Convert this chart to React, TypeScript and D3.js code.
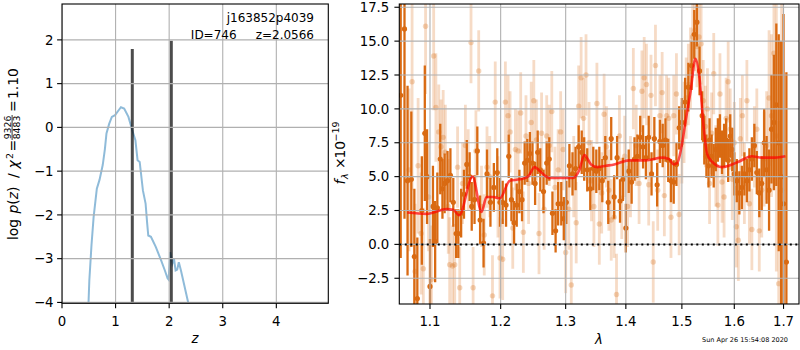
import * as d3 from "d3";

// ── left panel: log p(z) ─────────────────────────────────────────────
const zTicks = [0, 1, 2, 3, 4];
const zTickLabels = ["0", "1", "2", "3", "4"];
const logpTicks = [-4, -3, -2, -1, 0, 1, 2];
const logpTickLabels = ["\u22124", "\u22123", "\u22122", "\u22121", "0", "1", "2"];

// [z, log p(z)]
const pzCurve: [number, number][] = [
  [0.47, -4.6], [0.494, -4.03], [0.51, -3.5], [0.55, -2.7], [0.59, -2.05],
  [0.65, -1.4], [0.70, -1.2], [0.76, -0.86], [0.80, -0.5], [0.83, -0.14],
  [0.88, 0.08], [0.93, 0.24], [0.99, 0.28], [1.05, 0.38], [1.10, 0.46],
  [1.16, 0.43], [1.24, 0.24], [1.31, -0.06], [1.37, -0.29], [1.41, -0.75],
  [1.45, -0.79], [1.51, -1.44], [1.56, -1.74], [1.59, -2.2], [1.61, -2.47],
  [1.66, -2.5], [1.75, -2.73], [1.85, -3.04], [1.92, -3.27], [1.97, -3.45],
  [1.99, -3.48], [2.02, -2.85], [2.06, -3.11], [2.09, -3.0], [2.12, -3.27],
  [2.15, -3.25], [2.18, -3.08], [2.22, -3.27], [2.36, -4.03], [2.40, -4.4],
];

// [z, top of line] for the two dark redshift markers
const zMarkers: [number, number][] = [
  [1.312, 1.79],
  [2.04, 1.98],
];

// ── right panel: spectrum ────────────────────────────────────────────
const lamTicks = [1.1, 1.2, 1.3, 1.4, 1.5, 1.6, 1.7];
const lamTickLabels = ["1.1", "1.2", "1.3", "1.4", "1.5", "1.6", "1.7"];
const fluxTicks = [-2.5, 0, 2.5, 5, 7.5, 10, 12.5, 15, 17.5];
const fluxTickLabels = ["\u22122.5", "0.0", "2.5", "5.0", "7.5", "10.0", "12.5", "15.0", "17.5"];

// [lambda, flux, err] — strong (dark) spectrum
const darkPoints: [number, number, number][] = [
  [1.061, 11.0, 12], [1.066, 15.9, 14], [1.070, 4.7, 7], [1.075, 4.8, 5],
  [1.079, -0.9, 5], [1.083, -4.0, 4.5], [1.089, 2.5, 4], [1.093, 8.2, 5],
  [1.096, 5.0, 3.5], [1.100, -3.1, 3.5], [1.104, 2.8, 3], [1.107, 0.2, 3],
  [1.110, 2.7, 2.6], [1.114, 6.3, 2.6], [1.117, 4.1, 2.2], [1.120, 4.5, 2.2],
  [1.124, 4.7, 2.2], [1.128, 5.1, 2], [1.132, 3.1, 1.8], [1.136, 0.8, 1.8],
  [1.139, 0.8, 1.8], [1.143, 2.3, 1.8], [1.147, 3.7, 1.8], [1.151, 5.9, 1.8],
  [1.155, 5.0, 1.8], [1.158, 2.8, 1.8], [1.162, 3.3, 1.8], [1.166, 6.9, 1.8],
  [1.170, 1.8, 1.8], [1.175, 0.1, 1.8], [1.180, 5.2, 1.8], [1.185, 3.1, 1.8],
  [1.190, 4.2, 1.8], [1.195, 5.3, 1.8], [1.199, 3.1, 1.8],
  [1.203, 3.1, 1.6], [1.208, 2.9, 1.6], [1.212, 6.5, 1.6], [1.216, 3.3, 1.6],
  [1.220, 1.6, 1.6], [1.224, 2.9, 1.6], [1.228, 3.9, 1.6], [1.232, 3.3, 1.6],
  [1.236, 6.0, 1.6], [1.240, 6.2, 1.6], [1.244, 6.7, 1.6], [1.248, 6.0, 1.6],
  [1.252, 4.5, 1.6], [1.256, 6.8, 1.6], [1.260, 5.5, 1.6], [1.265, 3.9, 1.6],
  [1.270, 6.0, 1.6], [1.274, 6.3, 1.6], [1.279, 2.3, 1.6], [1.284, 1.0, 1.6],
  [1.288, 3.0, 1.6], [1.293, 3.0, 1.6], [1.297, 1.9, 1.6], [1.301, 3.1, 1.6],
  [1.306, 5.8, 1.6], [1.311, 5.2, 1.6], [1.316, 5.6, 1.6], [1.321, 7.2, 1.6],
  [1.326, 6.8, 1.6], [1.330, 6.3, 1.6], [1.335, 5.5, 1.6], [1.340, 4.1, 1.6],
  [1.345, 5.6, 1.6], [1.350, 5.4, 1.6], [1.355, 5.6, 1.6], [1.360, 4.7, 1.6],
  [1.365, 6.4, 1.6], [1.370, 3.1, 1.6], [1.375, 7.8, 1.6], [1.380, 3.5, 1.6],
  [1.385, 6.4, 1.6], [1.390, 3.2, 1.6], [1.395, 4.8, 1.6], [1.400, 1.2, 1.8],
  [1.405, 5.4, 1.6], [1.410, 4.6, 1.6], [1.415, 6.3, 1.6], [1.420, 6.5, 1.6],
  [1.425, 7.9, 1.6], [1.430, 7.2, 1.6], [1.435, 6.4, 1.6], [1.440, 7.9, 1.6],
  [1.445, 5.2, 1.6], [1.450, 7.8, 1.6], [1.455, 4.4, 1.6], [1.460, 7.6, 1.6],
  [1.465, 7.3, 1.6], [1.470, 7.7, 1.6], [1.475, 6.2, 1.6], [1.480, 4.7, 1.6],
  [1.485, 4.6, 1.6], [1.490, 5.9, 1.6], [1.495, 8.6, 1.6], [1.500, 9.0, 1.8],
  [1.506, 10.5, 1.8], [1.512, 11.6, 1.8], [1.518, 13.2, 1.8], [1.523, 15.5, 1.8],
  [1.528, 16.4, 1.8], [1.533, 12.8, 1.8], [1.538, 9.5, 1.8], [1.542, 7.7, 1.8],
  [1.546, 6.5, 1.6], [1.550, 5.8, 1.6], [1.552, 7.7, 1.6], [1.556, 6.5, 1.6],
  [1.560, 5.8, 1.6], [1.564, 7.0, 1.6], [1.568, 7.7, 1.6], [1.572, 8.0, 1.6],
  [1.576, 6.8, 1.6], [1.580, 7.3, 1.6], [1.584, 7.7, 1.6], [1.588, 6.2, 1.6],
  [1.592, 8.0, 1.6], [1.596, 7.0, 1.6], [1.600, 5.2, 1.6], [1.605, 4.7, 1.6],
  [1.610, 3.8, 1.6], [1.615, 4.2, 1.6], [1.620, 5.2, 1.6], [1.625, 4.7, 1.6],
  [1.630, 5.5, 1.6], [1.635, 6.3, 1.6], [1.640, 7.3, 1.6], [1.645, 5.3, 1.6],
  [1.650, 3.8, 1.8], [1.655, 4.5, 2], [1.660, 7.5, 2.5], [1.665, 5.5, 2.5],
  [1.670, 4.0, 3], [1.675, 8.5, 4], [1.680, 9.0, 5], [1.685, 10.3, 6],
  [1.690, 7.5, 8], [1.695, 5.0, 10], [1.700, 3.0, 14], [1.706, -1.3, 14],
];

// [lambda, flux, err] — faint (light) spectrum
const lightPoints: [number, number, number][] = [
  [1.072, 5.5, 6], [1.076, 12.0, 8], [1.080, -2.0, 5], [1.084, 5.8, 5],
  [1.088, 0.8, 4.5], [1.091, -1.8, 4.5], [1.094, 16.1, 5], [1.098, 3.5, 4],
  [1.102, -2.6, 4], [1.105, 13.9, 4], [1.108, 10.1, 4], [1.112, 8.3, 3.5],
  [1.115, 7.2, 3.5], [1.118, 7.9, 3.5], [1.121, 6.8, 3.5], [1.125, 2.8, 3.5],
  [1.127, -1.5, 3.5], [1.131, -1.6, 3], [1.134, -1.5, 3], [1.138, 5.7, 3],
  [1.141, -3.2, 3], [1.145, 4.5, 3], [1.149, 7.3, 3], [1.153, 5.5, 3],
  [1.157, 14.9, 3], [1.160, -3.2, 3], [1.164, 6.9, 3], [1.168, 12.8, 3],
  [1.172, 2.8, 3], [1.176, 0.7, 3], [1.180, 5.7, 3], [1.184, 5.0, 3],
  [1.188, -3.8, 3], [1.192, 10.5, 3], [1.196, 3.5, 3], [1.199, -1.0, 3],
  [1.203, -1.1, 3], [1.207, 10.5, 3], [1.211, 9.5, 3], [1.214, 8.3, 3],
  [1.218, 1.2, 3], [1.222, 7.0, 3], [1.226, 6.9, 3], [1.230, 9.7, 3],
  [1.234, 0.9, 3], [1.238, 8.0, 3], [1.242, 4.5, 3], [1.246, 9.0, 3],
  [1.250, 10.6, 3], [1.254, 7.7, 3], [1.258, 0.8, 3], [1.262, 8.2, 3],
  [1.266, 2.6, 3], [1.270, 8.0, 3], [1.274, 7.3, 3], [1.278, 9.8, 3],
  [1.283, 4.2, 3], [1.288, 5.5, 3], [1.292, 8.3, 3], [1.296, 7.0, 3],
  [1.300, -0.6, 3], [1.305, 2.6, 3], [1.309, -3.0, 3], [1.313, 5.0, 3],
  [1.317, 1.6, 3], [1.321, 10.2, 3], [1.325, 12.3, 3], [1.329, 9.3, 3],
  [1.333, 12.5, 3], [1.338, 7.5, 3], [1.342, 4.7, 3], [1.346, 2.8, 3],
  [1.351, 10.4, 3], [1.355, 1.5, 3], [1.359, 3.8, 3], [1.363, 9.6, 3],
  [1.367, 7.2, 3], [1.371, 4.0, 3], [1.375, 1.8, 3], [1.380, 2.0, 3],
  [1.384, -3.7, 3], [1.389, 8.0, 3], [1.393, 3.4, 3], [1.398, 6.5, 3],
  [1.403, 2.8, 3], [1.408, 5.0, 3], [1.413, 11.5, 3], [1.418, 7.3, 3],
  [1.423, 4.5, 3], [1.428, 11.3, 3], [1.432, 12.3, 3], [1.436, 11.8, 3],
  [1.440, 4.4, 3], [1.444, 11.0, 3], [1.448, -1.3, 3], [1.452, 13.2, 3],
  [1.456, 4.0, 3], [1.460, 9.5, 3], [1.464, 11.2, 3], [1.468, 3.6, 3],
  [1.472, 9.5, 3], [1.476, 9.3, 3], [1.480, 2.0, 3], [1.485, 9.5, 3],
  [1.490, 11.1, 3], [1.495, 2.2, 3], [1.500, 7.5, 3], [1.504, 9.0, 3],
  [1.508, 10.8, 3], [1.512, 11.8, 3], [1.516, 13.0, 3], [1.520, 15.3, 3],
  [1.524, 15.8, 3], [1.528, 14.6, 3], [1.532, 15.3, 3], [1.536, 14.8, 3],
  [1.540, 10.6, 3], [1.544, 8.7, 3], [1.548, 10.0, 3], [1.552, 4.5, 3],
  [1.556, 8.2, 3], [1.560, 12.6, 3], [1.564, 5.8, 3], [1.568, 2.9, 3],
  [1.572, 11.1, 3], [1.576, 4.6, 3], [1.580, 3.5, 3], [1.584, 9.3, 3],
  [1.588, 12.0, 3], [1.592, 8.5, 3], [1.596, 4.8, 3], [1.600, 7.5, 3],
  [1.604, 1.3, 3], [1.608, 0.3, 3], [1.612, 7.8, 3], [1.616, 9.5, 3],
  [1.620, 4.5, 3], [1.625, 10.6, 3], [1.630, 3.0, 3], [1.635, 1.1, 3],
  [1.640, 7.2, 3], [1.645, 8.5, 3], [1.650, 1.0, 3], [1.655, 4.0, 3.5],
  [1.660, 6.3, 3.5], [1.665, 7.3, 4], [1.670, 10.8, 5], [1.675, 9.5, 6],
  [1.680, 14.1, 8], [1.685, 8.0, 10], [1.690, -2.9, 12], [1.696, 4.0, 14],
];

// [lambda, flux] for the red model
const modelLine: [number, number][] = [
  [1.0697, 2.35], [1.0955, 2.25], [1.1228, 2.6], [1.1318, 2.55], [1.1403, 2.15],
  [1.1592, 5.0], [1.1721, 2.4], [1.1793, 3.5], [1.189, 3.5], [1.1988, 3.4],
  [1.2136, 4.7], [1.2285, 4.8], [1.241, 5.0], [1.2513, 5.7], [1.2616, 5.3],
  [1.2745, 4.9], [1.2956, 4.9], [1.3115, 4.9], [1.3222, 5.5], [1.3303, 6.6],
  [1.3413, 5.9], [1.3522, 5.7], [1.3661, 5.8], [1.3801, 5.9], [1.4057, 6.2],
  [1.4347, 6.2], [1.4642, 6.4], [1.4762, 6.3], [1.4853, 5.9], [1.4914, 6.0],
  [1.5006, 7.5], [1.5069, 9.1], [1.5162, 11.3], [1.5253, 13.7], [1.5328, 12.3],
  [1.5409, 8.6], [1.5472, 6.7], [1.5567, 6.1], [1.5759, 5.7], [1.5889, 5.8],
  [1.6085, 6.1], [1.6349, 6.5], [1.6551, 6.4], [1.6824, 6.4], [1.7041, 6.5],
];

const FONT = "'DejaVu Sans', sans-serif";
const ORANGE = "#d96a12";
const GRID = "#b0b0b0";

const LP = { x0: 62, x1: 328.3, y0: 4, y1: 303.3 };
const RP = { x0: 399.3, x1: 799, y0: 4, y1: 304 };

export default function App() {
  const zx = d3.scaleLinear().domain([0, 4.97]).range([LP.x0, LP.x1]);
  const zy = d3.scaleLinear().domain([-4.02, 2.82]).range([LP.y1, LP.y0]);
  const lx = d3.scaleLog().domain([1.0592, 1.7327]).range([RP.x0, RP.x1]);
  const fy = d3.scaleLinear().domain([-4.4, 17.74]).range([RP.y1, RP.y0]);

  const pzPath = d3
    .line<[number, number]>()
    .x((d) => zx(d[0]))
    .y((d) => zy(d[1]))(pzCurve);

  const modelPath = d3
    .line<[number, number]>()
    .x((d) => lx(d[0]))
    .y((d) => fy(d[1]))
    .curve(d3.curveMonotoneX)(modelLine);

  const tickFont = { fontFamily: FONT, fontSize: 13.3, fill: "#000" };

  return (
    <svg
      width={800}
      height={350}
      style={{ position: "absolute", left: 0, top: 0, background: "#fff" }}
    >
      <defs>
        <clipPath id="clipL">
          <rect x={LP.x0} y={LP.y0} width={LP.x1 - LP.x0} height={LP.y1 - LP.y0} />
        </clipPath>
        <clipPath id="clipR">
          <rect x={RP.x0} y={RP.y0} width={RP.x1 - RP.x0} height={RP.y1 - RP.y0} />
        </clipPath>
      </defs>

      {/* ── left panel ── */}
      <g clipPath="url(#clipL)">
        <path d={pzPath ?? ""} fill="none" stroke="#1f77b4" strokeOpacity={0.5} strokeWidth={2} />
        {zMarkers.map(([z, top], i) => (
          <line
            key={i}
            x1={zx(z)}
            x2={zx(z)}
            y1={zy(top)}
            y2={LP.y1 + 2}
            stroke="#000"
            strokeOpacity={0.7}
            strokeWidth={3}
          />
        ))}
        {zTicks.map((t) => (
          <line key={"gx" + t} x1={zx(t)} x2={zx(t)} y1={LP.y0} y2={LP.y1} stroke={GRID} strokeWidth={1.1} />
        ))}
        {logpTicks.map((t) => (
          <line key={"gy" + t} x1={LP.x0} x2={LP.x1} y1={zy(t)} y2={zy(t)} stroke={GRID} strokeWidth={1.1} />
        ))}
      </g>
      <rect
        x={LP.x0}
        y={LP.y0}
        width={LP.x1 - LP.x0}
        height={LP.y1 - LP.y0}
        fill="none"
        stroke="#000"
        strokeWidth={1.1}
      />
      {zTicks.map((t, i) => (
        <g key={"tx" + t}>
          <line x1={zx(t)} x2={zx(t)} y1={LP.y1} y2={LP.y1 + 4.9} stroke="#000" strokeWidth={1.1} />
          <text x={zx(t)} y={326} textAnchor="middle" {...tickFont}>
            {zTickLabels[i]}
          </text>
        </g>
      ))}
      {logpTicks.map((t, i) => (
        <g key={"ty" + t}>
          <line x1={LP.x0 - 4.9} x2={LP.x0} y1={zy(t)} y2={zy(t)} stroke="#000" strokeWidth={1.1} />
          <text x={LP.x0 - 8.5} y={zy(t) + 4.7} textAnchor="end" {...tickFont}>
            {logpTickLabels[i]}
          </text>
        </g>
      ))}
      <text x={195} y={343} textAnchor="middle" fontFamily={FONT} fontSize={13.3} fontStyle="italic">
        z
      </text>
      <g transform="translate(18.3,155) rotate(-90)" fontFamily={FONT} fontSize={13.9}>
        <text x={-85} y={0}>log</text>
        <text x={-58.5} y={0}>
          <tspan fontStyle="italic">p</tspan>(<tspan fontStyle="italic">z</tspan>)
        </text>
        <text x={-23} y={0}>/</text>
        <text x={-13.5} y={0} fontStyle="italic">χ</text>
        <text x={-4} y={-5.5} fontSize={9.5}>2</text>
        <text x={3.5} y={0}>=</text>
        <text x={27.5} y={-7.6} fontSize={9.3} textAnchor="middle">9326</text>
        <line x1={15} x2={40} y1={-6.2} y2={-6.2} stroke="#000" strokeWidth={0.8} />
        <text x={27.5} y={1.8} fontSize={9.3} textAnchor="middle">8483</text>
        <text x={43} y={0}>=</text>
        <text x={56} y={0}>1.10</text>
      </g>
      <text x={314} y={22} textAnchor="end" fontFamily={FONT} fontSize={12}>
        j163852p4039
      </text>
      <text x={314} y={38.5} textAnchor="end" fontFamily={FONT} fontSize={12} style={{ whiteSpace: "pre" }}>
        {"ID=746     z=2.0566"}
      </text>

      {/* ── right panel ── */}
      <g clipPath="url(#clipR)">
        {lightPoints.map(([l, f, e], i) => (
          <g key={"lp" + i}>
            <line
              x1={lx(l)}
              x2={lx(l)}
              y1={fy(f - e)}
              y2={fy(f + e)}
              stroke={ORANGE}
              strokeOpacity={0.24}
              strokeWidth={2.8}
            />
            <circle cx={lx(l)} cy={fy(f)} r={2.7} fill={ORANGE} fillOpacity={0.28} />
          </g>
        ))}
        {darkPoints.map(([l, f, e], i) => (
          <g key={"dp" + i}>
            <line x1={lx(l)} x2={lx(l)} y1={fy(f - e)} y2={fy(f + e)} stroke={ORANGE} strokeWidth={2.3} />
            <circle cx={lx(l)} cy={fy(f)} r={2.6} fill={ORANGE} />
          </g>
        ))}
        {lamTicks.map((t) => (
          <line key={"rgx" + t} x1={lx(t)} x2={lx(t)} y1={RP.y0} y2={RP.y1} stroke={GRID} strokeWidth={1.1} />
        ))}
        {fluxTicks.map((t) => (
          <line key={"rgy" + t} x1={RP.x0} x2={RP.x1} y1={fy(t)} y2={fy(t)} stroke={GRID} strokeWidth={1.1} />
        ))}
        <path d={modelPath ?? ""} fill="none" stroke="#ff0000" strokeOpacity={0.7} strokeWidth={2.6} />
        <line
          x1={RP.x0}
          x2={RP.x1}
          y1={fy(0)}
          y2={fy(0)}
          stroke="#000"
          strokeWidth={2}
          strokeDasharray="2,3.5"
        />
      </g>
      <rect
        x={RP.x0}
        y={RP.y0}
        width={RP.x1 - RP.x0}
        height={RP.y1 - RP.y0}
        fill="none"
        stroke="#000"
        strokeWidth={1.1}
      />
      {lamTicks.map((t, i) => (
        <g key={"rtx" + t}>
          <line x1={lx(t)} x2={lx(t)} y1={RP.y1} y2={RP.y1 + 4.9} stroke="#000" strokeWidth={1.1} />
          <text x={lx(t)} y={325.5} textAnchor="middle" {...tickFont}>
            {lamTickLabels[i]}
          </text>
        </g>
      ))}
      {fluxTicks.map((t, i) => (
        <g key={"rty" + t}>
          <line x1={RP.x0 - 4.9} x2={RP.x0} y1={fy(t)} y2={fy(t)} stroke="#000" strokeWidth={1.1} />
          <text x={RP.x0 - 10} y={fy(t) + 4.7} textAnchor="end" {...tickFont}>
            {fluxTickLabels[i]}
          </text>
        </g>
      ))}
      <text x={599} y={344} textAnchor="middle" fontFamily={FONT} fontSize={13.3} fontStyle="italic">
        λ
      </text>
      <g transform="translate(345,152.5) rotate(-90)" fontFamily={FONT} fontSize={13.9}>
        <text x={-32} y={0} fontStyle="italic">f</text>
        <text x={-26.5} y={3} fontSize={9.5} fontStyle="italic">λ</text>
        <text x={-16.5} y={0}>×</text>
        <text x={-6} y={0}>10</text>
        <text x={11} y={-5.8} fontSize={9.5}>{"\u221219"}</text>
      </g>
      <text x={788} y={342} textAnchor="end" fontFamily={FONT} fontSize={6.5}>
        Sun Apr 26 15:54:08 2020
      </text>
    </svg>
  );
}
